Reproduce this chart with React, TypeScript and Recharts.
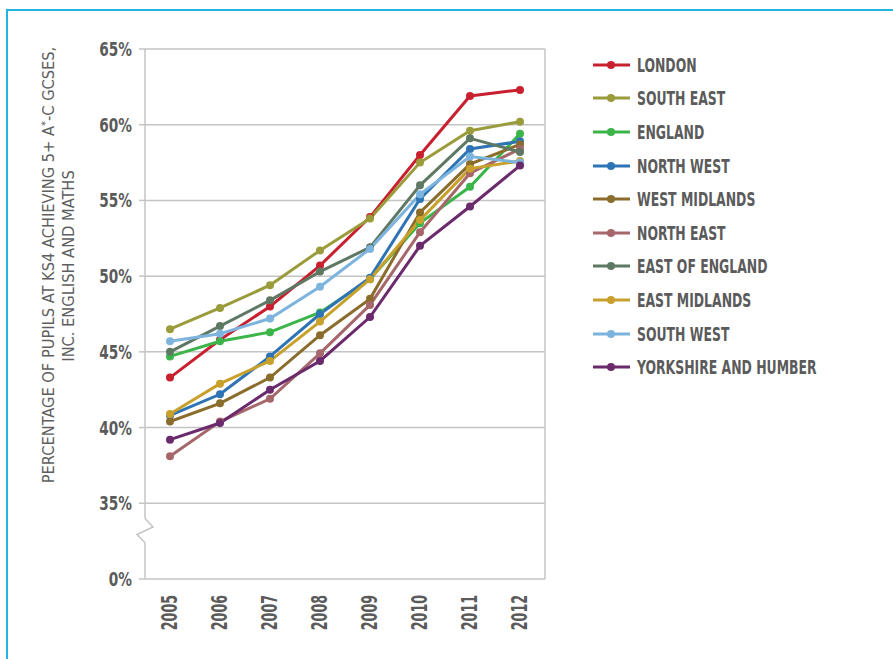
import { LineChart, Line, XAxis, YAxis, CartesianGrid, Legend, ReferenceDot } from 'recharts';

const years = [2005, 2006, 2007, 2008, 2009, 2010, 2011, 2012];
const yearEdges = [2004.5, 2005.5, 2006.5, 2007.5, 2008.5, 2009.5, 2010.5, 2011.5, 2012.5];
// 30 on the scale stands for the "0%" below the axis break
const yTicks = [30, 35, 40, 45, 50, 55, 60, 65];

const london = [43.3, 45.8, 48.0, 50.7, 53.9, 58.0, 61.9, 62.3];
const southEast = [46.5, 47.9, 49.4, 51.7, 53.8, 57.5, 59.6, 60.2];
const england = [44.7, 45.7, 46.3, 47.6, 49.8, 53.5, 55.9, 59.4];
const northWest = [40.8, 42.2, 44.7, 47.5, 49.9, 55.1, 58.4, 58.9];
const westMidlands = [40.4, 41.6, 43.3, 46.1, 48.5, 54.2, 57.4, 58.7];
const northEast = [38.1, 40.4, 41.9, 44.9, 48.1, 52.9, 56.8, 58.4];
const eastOfEngland = [45.0, 46.7, 48.4, 50.3, 51.9, 56.0, 59.1, 58.2];
const eastMidlands = [40.9, 42.9, 44.4, 47.0, 49.8, 53.7, 57.1, 57.6];
const southWest = [45.7, 46.2, 47.2, 49.3, 51.8, 55.4, 57.9, 57.5];
const yorkshire = [39.2, 40.3, 42.5, 44.4, 47.3, 52.0, 54.6, 57.3];

const series = [
  { key: 'london', name: 'LONDON', color: '#c8202f', values: london },
  { key: 'southEast', name: 'SOUTH EAST', color: '#9a9c3c', values: southEast },
  { key: 'england', name: 'ENGLAND', color: '#3bb54a', values: england },
  { key: 'northWest', name: 'NORTH WEST', color: '#2e74b5', values: northWest },
  { key: 'westMidlands', name: 'WEST MIDLANDS', color: '#8a6d2c', values: westMidlands },
  { key: 'northEast', name: 'NORTH EAST', color: '#a6676b', values: northEast },
  { key: 'eastOfEngland', name: 'EAST OF ENGLAND', color: '#5e7863', values: eastOfEngland },
  { key: 'eastMidlands', name: 'EAST MIDLANDS', color: '#c8a02c', values: eastMidlands },
  { key: 'southWest', name: 'SOUTH WEST', color: '#7db4de', values: southWest },
  { key: 'yorkshire', name: 'YORKSHIRE AND HUMBER', color: '#6b2a6b', values: yorkshire },
];

const data = years.map((year, i) => {
  const row: Record<string, number> = { year };
  series.forEach((s) => {
    row[s.key] = s.values[i];
  });
  return row;
});

const FONT = "'DejaVu Sans Condensed', 'DejaVu Sans', sans-serif";
const GRID = '#c4c4c4';
const TEXT = '#5b5b5b';

const YTick = ({ x, y, payload }: any) => (
  <g transform={`translate(${x},${y})`}>
    <text transform="scale(0.76,1)" dy={7} textAnchor="end" fontFamily={FONT} fontSize={20} fontWeight="bold" fill={TEXT}>
      {payload.value === 30 ? '0%' : `${payload.value}%`}
    </text>
  </g>
);

const XTick = ({ x, y, payload }: any) => (
  <g transform={`translate(${x + 7},${y + 14}) rotate(-90)`}>
    <text transform="scale(0.67,1)" textAnchor="end" fontFamily={FONT} fontSize={21} fontWeight="bold" fill={TEXT}>
      {payload.value}
    </text>
  </g>
);

const AxisBreak = ({ cx, cy }: any) => (
  <g>
    <rect x={cx - 3} y={cy - 12} width={6} height={24} fill="#fff" />
    <polyline
      points={`${cx},${cy - 12} ${cx + 8},${cy - 3.5} ${cx - 8},${cy + 4} ${cx},${cy + 12}`}
      fill="none"
      stroke={GRID}
      strokeWidth={1.5}
    />
  </g>
);

const LegendList = () => (
  <div style={{ fontFamily: FONT }}>
    {series.map((s) => (
      <div key={s.key} style={{ height: 33.6, display: 'flex', alignItems: 'center' }}>
        <svg width={44} height={12} style={{ flex: 'none' }}>
          <line x1={0} y1={6} x2={37} y2={6} stroke={s.color} strokeWidth={3} />
          <circle cx={18} cy={6} r={4} fill={s.color} />
        </svg>
        <span
          style={{
            fontSize: 20,
            fontWeight: 'bold',
            color: TEXT,
            display: 'inline-block',
            whiteSpace: 'nowrap',
            transform: 'scaleX(0.69)',
            transformOrigin: 'left center',
          }}
        >
          {s.name}
        </span>
      </div>
    ))}
  </div>
);

export default function App() {
  return (
    <div style={{ position: 'absolute', left: 0, top: 0, width: 893, height: 659, background: '#fff', overflow: 'hidden' }}>
      <div
        style={{
          position: 'absolute',
          left: 6,
          top: 9,
          width: 893,
          height: 659,
          borderTop: '2px solid #22b4e2',
          borderLeft: '2px solid #22b4e2',
        }}
      />
      <svg width={100} height={659} style={{ position: 'absolute', left: 0, top: 0 }}>
        <text
          transform="translate(54,265) rotate(-90)"
          textAnchor="middle"
          fontFamily={FONT}
          fontSize={16.3}
          fill="#5e5e5e"
        >
          PERCENTAGE OF PUPILS AT KS4 ACHIEVING 5+ A
          <tspan dy={-5} fontSize={11}>*</tspan>
          <tspan dy={5}>-C GCSES,</tspan>
        </text>
        <text
          transform="translate(74,266) rotate(-90)"
          textAnchor="middle"
          fontFamily={FONT}
          fontSize={16.3}
          fill="#5e5e5e"
        >
          INC. ENGLISH AND MATHS
        </text>
      </svg>
      <div style={{ position: 'absolute', left: 0, top: 0 }}>
        <LineChart width={893} height={659} data={data} margin={{ top: 49, right: 348, bottom: 20, left: 0 }}>
          <CartesianGrid xAxisId={0} yAxisId={0} stroke={GRID} strokeWidth={1.5} />
          <XAxis
            xAxisId={0}
            type="number"
            dataKey="year"
            domain={[2004.5, 2012.5]}
            ticks={yearEdges}
            height={0}
            axisLine={false}
            tick={false}
            tickSize={6}
            tickLine={{ stroke: GRID, strokeWidth: 1.5 }}
          />
          <XAxis
            xAxisId={1}
            type="number"
            dataKey="year"
            domain={[2004.5, 2012.5]}
            ticks={years}
            height={60}
            axisLine={false}
            tickLine={false}
            tickSize={0}
            tick={<XTick />}
          />
          <YAxis
            yAxisId={0}
            type="number"
            domain={[30, 65]}
            ticks={yTicks}
            width={145}
            axisLine={false}
            tickSize={6}
            tickMargin={7}
            tickLine={{ stroke: GRID, strokeWidth: 1.5 }}
            tick={<YTick />}
          />
          <YAxis
            yAxisId={1}
            orientation="right"
            type="number"
            domain={[30, 65]}
            ticks={yTicks}
            width={0}
            axisLine={false}
            tick={false}
            tickSize={5}
            tickLine={{ stroke: GRID, strokeWidth: 1.5 }}
          />
          <ReferenceDot
            xAxisId={0}
            yAxisId={0}
            x={2004.5}
            y={33.2}
            ifOverflow="visible"
            shape={(p: any) => <AxisBreak {...p} />}
          />
          <Legend
            layout="vertical"
            align="center"
            verticalAlign="middle"
            wrapperStyle={{ left: 593, top: 48, width: 290 }}
            content={() => <LegendList />}
          />
          {series.map((s) => (
            <Line
              key={s.key}
              xAxisId={1}
              yAxisId={0}
              type="linear"
              dataKey={s.key}
              name={s.name}
              stroke={s.color}
              strokeWidth={3}
              dot={{ r: 4, fill: s.color, stroke: s.color, strokeWidth: 0 }}
              activeDot={false}
              isAnimationActive={false}
            />
          ))}
        </LineChart>
      </div>
    </div>
  );
}
